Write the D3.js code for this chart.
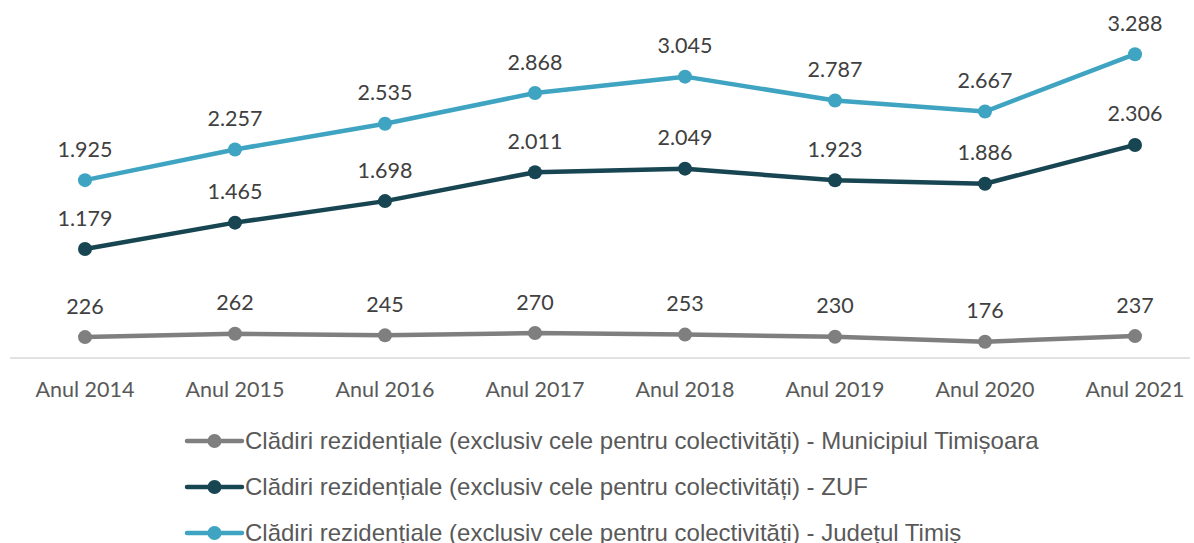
<!DOCTYPE html>
<html>
<head>
<meta charset="utf-8">
<script src="https://cdn.jsdelivr.net/npm/d3@7"></script>
<style>
  body { margin: 0; background: #fff; }
</style>
</head>
<body>
<script>
const years = ['Anul 2014', 'Anul 2015', 'Anul 2016', 'Anul 2017', 'Anul 2018', 'Anul 2019', 'Anul 2020', 'Anul 2021'];
const timisoara = [226, 262, 245, 270, 253, 230, 176, 237];
const zuf = [1179, 1465, 1698, 2011, 2049, 1923, 1886, 2306];
const judet = [1925, 2257, 2535, 2868, 3045, 2787, 2667, 3288];
const seriesNames = [
  'Clădiri rezidențiale (exclusiv cele pentru colectivități) - Municipiul Timișoara',
  'Clădiri rezidențiale (exclusiv cele pentru colectivități) - ZUF',
  'Clădiri rezidențiale (exclusiv cele pentru colectivități) - Județul Timiș'
];
const colors = ['#7f7f7f', '#174552', '#3ea4c1'];

let width = 1194, height = 543;
let svg = d3.select(document.body).append('svg')
  .attr('width', width)
  .attr('height', height);

let x = d3.scalePoint()
  .domain(years)
  .range([85, 1135]);

let y = d3.scaleLinear()
  .domain([0, 3500])
  .range([358, 358 - 3500 * 0.0924]);

// x axis line
svg.append('line')
  .attr('x1', 10).attr('x2', 1190)
  .attr('y1', y(0)).attr('y2', y(0))
  .attr('stroke', '#d9d9d9')
  .attr('stroke-width', 1.5);

svg.append('g')
  .style('font', '21.5px Lato, "Open Sans", sans-serif')
  .attr('fill', '#595959')
  .selectAll('text')
  .data(years)
  .join('text')
    .attr('x', d => x(d))
    .attr('y', 389)
    .attr('dy', '0.35em')
    .attr('text-anchor', 'middle')
    .text(d => d);

let allSeries = [timisoara, zuf, judet];
let fmt = v => d3.format(',')(v).replace(/,/g, '.');

let line = d3.line()
  .x((d, i) => x(years[i]))
  .y(d => y(d));

allSeries.forEach((vals, s) => {
  let g = svg.append('g');
  g.append('path')
    .datum(vals)
    .attr('d', line)
    .attr('fill', 'none')
    .attr('stroke', colors[s])
    .attr('stroke-width', 4.5)
    .attr('stroke-linejoin', 'round')
    .attr('stroke-linecap', 'round');
  g.selectAll('circle')
    .data(vals)
    .join('circle')
      .attr('cx', (d, i) => x(years[i]))
      .attr('cy', d => y(d))
      .attr('r', 7)
      .attr('fill', colors[s]);
  g.selectAll('text')
    .data(vals)
    .join('text')
      .attr('x', (d, i) => x(years[i]))
      .attr('y', d => y(d) - 31)
      .attr('dy', '0.35em')
      .attr('text-anchor', 'middle')
      .style('font', '21.5px Lato, "Open Sans", sans-serif')
      .attr('fill', '#404040')
      .text(d => fmt(d));
});

// legend
let legend = svg.append('g')
  .selectAll('g')
  .data(seriesNames)
  .join('g')
    .attr('transform', (d, i) => `translate(187, ${441 + i * 46})`);

legend.append('line')
  .attr('x1', 0).attr('x2', 55)
  .attr('stroke', (d, i) => colors[i])
  .attr('stroke-width', 4.5)
  .attr('stroke-linecap', 'round');

legend.append('circle')
  .attr('cx', 27.5)
  .attr('r', 7)
  .attr('fill', (d, i) => colors[i]);

legend.append('text')
  .attr('x', 58)
  .attr('dy', '0.35em')
  .style('font', '24px "Liberation Sans", Arial, sans-serif')
  .attr('fill', '#595959')
  .text(d => d);
</script>
</body>
</html>
